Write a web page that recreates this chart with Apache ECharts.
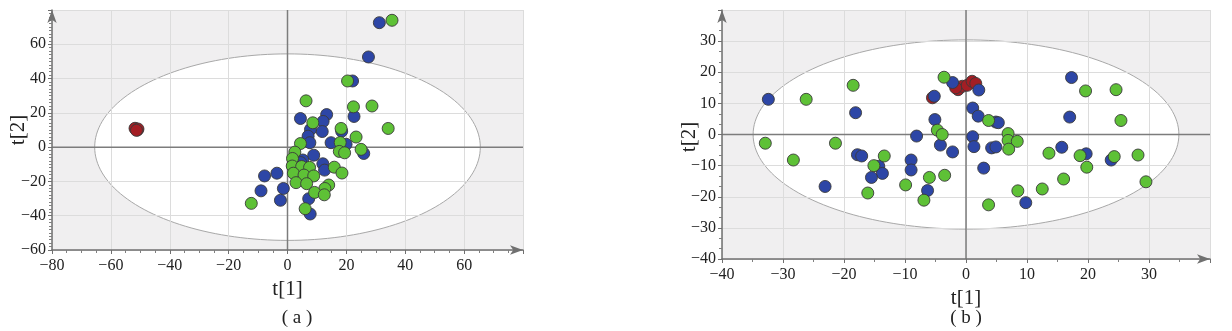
<!DOCTYPE html>
<html><head><meta charset="utf-8">
<script src="https://cdn.jsdelivr.net/npm/echarts/dist/echarts.min.js"></script>
<style>html,body{margin:0;padding:0;background:#fff}#c{width:1232px;height:331px}</style>
</head><body><div id="c"></div>
<script>
// ---------- Panel (a) data : [t1, t2] ----------
const aBlue = [[31.2,72.6],[27.5,52.6],[22.1,38.6],[22.6,17.9],[13.3,19],[12.1,15],[4.4,16.7],
  [11.8,9.1],[7.8,10.3],[7,6.4],[7.6,2.6],[14.8,2.6],[19.9,1.7],[18.4,9.3],[25.9,-3.7],[8.9,-4.7],
  [5.2,-7.5],[12,-9.7],[12.6,-13.4],[-7.8,-16.8],[-3.6,-15.2],[-9,-25.5],[-1.4,-24.1],[-2.4,-31],
  [7.2,-30.1],[7.7,-39],[4.5,-9]];
const aGreen = [[35.5,74],[20.4,38.6],[6.3,27],[22.4,23.5],[28.7,24],[8.6,14.2],[18.2,10.9],[34.2,10.9],
  [23.3,5.9],[4.4,2.1],[17.9,2.7],[25,-1.3],[17.6,-2.5],[19.4,-3.3],[2.5,-2.9],[1.7,-6.6],[1.6,-11],
  [4.8,-11.3],[7.5,-11.8],[15.9,-11.7],[18.5,-15.1],[2,-15.2],[5.6,-16.3],[8.9,-16.8],[2.9,-20.7],
  [6.5,-21.3],[14,-22.1],[12.7,-24.1],[9.2,-26.4],[12.5,-27.8],[6,-35.9],[-12.3,-32.8]];
const aRed = [[-51.5,10.5],[-51,10],[-51.8,11],[-50.8,10.6],[-51.3,9.8]];

// ---------- Panel (b) data ----------
const bBlue = [[-32.4,11.3],[-18.1,7],[-17.8,-6.5],[-17.1,-6.9],[-8.1,-0.5],[-5.2,12.3],[-5.1,4.8],
  [-4.2,-3.4],[-23.1,-16.7],[-9,-8.2],[-9,-11.4],[-14.3,-10.2],[-13.7,-12.5],[-15.5,-13.8],[-6.3,-18],
  [-2.2,16.7],[2.1,14.3],[1.1,8.5],[2,5.9],[4.9,4],[5.3,3.8],[-2.2,-5.6],[1.1,-0.7],[1.3,-3.9],
  [4.2,-4.3],[4.9,-4],[2.9,-10.8],[9.8,-21.9],[17.3,18.3],[17,5.6],[15.7,-4.1],[19.7,-6.2],[23.8,-8.2]];
const bGreen = [[-26.2,11.3],[-18.5,15.8],[-32.9,-2.8],[-21.4,-2.8],[-13.4,-6.9],[-28.3,-8.2],[-4.7,1.4],
  [-3.9,0],[-3.6,18.4],[-15.1,-10],[-16.1,-18.8],[-9.9,-16.2],[-6,-13.8],[-6.9,-21.1],[-3.5,-13.1],
  [3.7,4.5],[6.9,0.3],[6.9,-1.9],[8.4,-2.2],[7,-4.7],[8.5,-18.1],[3.7,-22.6],[19.6,14],[24.6,14.4],
  [25.4,4.5],[13.6,-6],[18.7,-6.8],[24.3,-7.1],[28.2,-6.6],[19.8,-10.5],[16,-14.3],[12.5,-17.5],[29.5,-15.2]];
const bRed = [[-5.5,11.8],[-1.3,14.4],[-0.6,15.5],[0.2,15.8],[1,17.1],[1.6,16.4],[-1.7,15]];

// axis ranges [min, max, interval]
const aXRange = [-80, 80, 20], aYRange = [-60, 80, 20];
const bXRange = [-40, 40, 10], bYRange = [-40, 40, 10];
// Hotelling T2 ellipse radii [t1, t2]
const aEllipse = [65.5, 54.4];
const bEllipse = [34.9, 30.4];
const captions = ['( a )', '( b )'];
const xNames = ['t[1]', 't[1]'], yNames = ['t[2]', 't[2]'];

const C_BLUE = '#2d46a6', C_GREEN = '#5ec136', C_RED = '#a31e24';
const SERIF = '"Liberation Serif","DejaVu Serif",serif';

function axisCfg(type, grid, r, minorSplit, name, nameGap) {
  return {
    type: 'value', gridIndex: grid, min: r[0], max: r[1], interval: r[2], z: 2,
    name: name, nameLocation: 'middle', nameGap: nameGap,
    nameTextStyle: {fontFamily: SERIF, fontSize: 21, color: '#222'},
    axisLine: {show: true, onZero: false, symbol: ['none', 'arrow'], symbolSize: [7, 13],
      lineStyle: {color: '#707070', width: 1.5}},
    axisTick: {show: true, inside: false, length: 4, lineStyle: {color: '#707070', width: 1}},
    minorTick: {show: true, splitNumber: minorSplit, length: 3, lineStyle: {color: '#808080', width: 1}},
    splitLine: {show: true, lineStyle: {color: '#dcdcdc', width: 1}},
    minorSplitLine: {show: false},
    axisLabel: {show: true, showMaxLabel: false, showMinLabel: true,
      margin: type === 'y' ? 6 : 8,
      fontFamily: SERIF, fontSize: 16, color: '#222',
      formatter: v => String(v).replace('-', '\u2212')}
  };
}

function ellipseSeries(xi, yi, radii) {
  return {
    type: 'custom', xAxisIndex: xi, yAxisIndex: yi, z: 1, silent: true,
    data: [[0, 0]],
    renderItem: function (params, api) {
      const pts = [];
      const n = 180;
      for (let i = 0; i < n; i++) {
        const t = i / n * Math.PI * 2;
        pts.push(api.coord([radii[0] * Math.cos(t), radii[1] * Math.sin(t)]));
      }
      return {type: 'polygon', shape: {points: pts},
        style: {fill: '#ffffff', stroke: '#a8a8a8', lineWidth: 1}};
    }
  };
}

function zeroLines(xi, yi, xr, yr) {
  return {
    type: 'custom', xAxisIndex: xi, yAxisIndex: yi, z: 2, silent: true,
    data: [[0, 0]],
    renderItem: function (params, api) {
      const h0 = api.coord([xr[0], 0]), h1 = api.coord([xr[1], 0]);
      const v0 = api.coord([0, yr[0]]), v1 = api.coord([0, yr[1]]);
      return {type: 'group', children: [
        {type: 'line', shape: {x1: h0[0], y1: h0[1], x2: h1[0], y2: h1[1]},
          style: {stroke: '#7c7c7c', lineWidth: 1.5}},
        {type: 'line', shape: {x1: v0[0], y1: v0[1], x2: v1[0], y2: v1[1]},
          style: {stroke: '#7c7c7c', lineWidth: 1.5}}
      ]};
    }
  };
}

function pts(xi, yi, data, color) {
  return {type: 'scatter', xAxisIndex: xi, yAxisIndex: yi, z: 3, data: data,
    symbol: 'circle', symbolSize: 12, silent: true,
    itemStyle: {color: color, borderColor: '#3a3a3a', borderWidth: 0.9, opacity: 1}};
}

function label(text, x, y, size, rot) {
  return {type: 'text', x: x, y: y, rotation: rot || 0,
    style: {text: text, font: size + 'px ' + SERIF, fill: '#222', align: 'center', verticalAlign: 'middle'}};
}

const chart = echarts.init(document.getElementById('c'), null, {renderer: 'canvas'});
chart.setOption({
  animation: false,
  backgroundColor: '#ffffff',
  grid: [
    {left: 52, right: 709, top: 10, bottom: 81, show: true, backgroundColor: '#f0eff0',
      borderWidth: 0, z: 0, containLabel: false, outerBoundsMode: 'none'},
    {left: 722, right: 22, top: 10, bottom: 72, show: true, backgroundColor: '#f0eff0',
      borderWidth: 0, z: 0, containLabel: false, outerBoundsMode: 'none'}
  ],
  xAxis: [axisCfg('x', 0, aXRange, 4, xNames[0], 26), axisCfg('x', 1, bXRange, 2, xNames[1], 23)],
  yAxis: [axisCfg('y', 0, aYRange, 10, '', 0), axisCfg('y', 1, bYRange, 3, '', 0)],
  series: [
    ellipseSeries(0, 0, aEllipse), zeroLines(0, 0, aXRange, aYRange),
    pts(0, 0, aRed, C_RED), pts(0, 0, aBlue, C_BLUE), pts(0, 0, aGreen, C_GREEN),
    ellipseSeries(1, 1, bEllipse), zeroLines(1, 1, bXRange, bYRange),
    pts(1, 1, bRed, C_RED), pts(1, 1, bBlue, C_BLUE), pts(1, 1, bGreen, C_GREEN)
  ],
  graphic: [
    label(yNames[0], 18, 130, 21, Math.PI / 2),
    label(yNames[1], 689, 137, 21, Math.PI / 2),
    label(captions[0], 297, 318, 19),
    label(captions[1], 966, 318, 19)
  ]
});
</script></body></html>
